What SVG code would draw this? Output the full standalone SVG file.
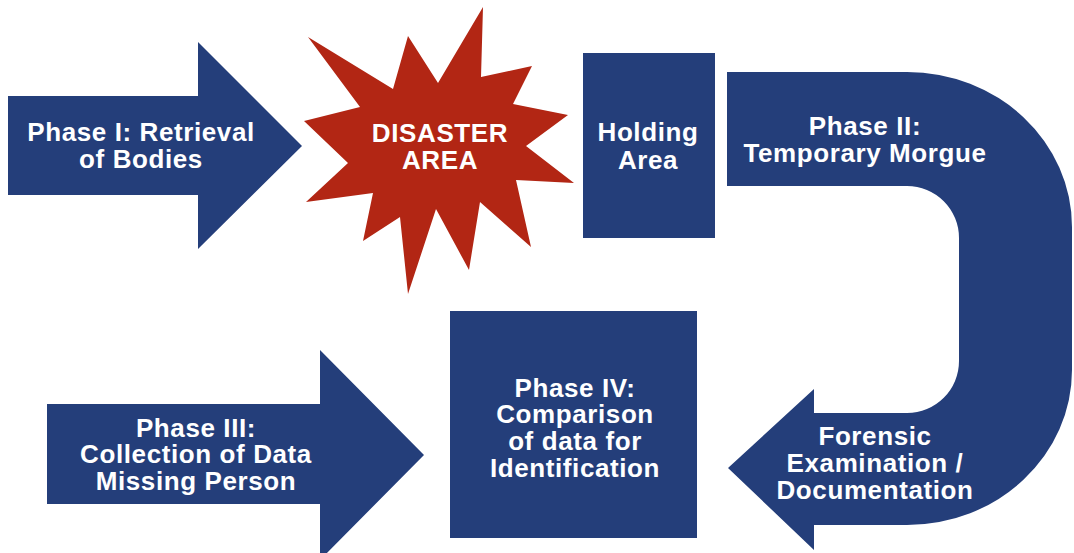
<svg xmlns="http://www.w3.org/2000/svg" width="1074" height="553" viewBox="0 0 1074 553">
<style>
.blue{fill:#243E7A}
.red{fill:#B22614}
.t{fill:#fff;font-family:"Liberation Sans",Arial,sans-serif;font-weight:bold;font-size:26px;letter-spacing:0.6px;text-anchor:middle}
</style>
<rect width="1074" height="553" fill="#fff"/>
<g id="phase1">
<path class="blue" d="M8,96 H198 V42 L302,146 L198,249 V195 H8 Z"/>
<text class="t" x="141" y="141">Phase I: Retrieval</text>
<text class="t" x="141" y="168">of Bodies</text>
</g>
<g id="disaster">
<polygon class="red" points="483,7 481,77 532,66 513,104 568,115 526,146 574,183 516,180 531,247 480,202 469,270 436,209 408,294 400,217 363,241 373,193 306,202 348,163 304,121 360,107 308,37 393,89 408,36 438,83"/>
<text class="t" x="440" y="142">DISASTER</text>
<text class="t" x="440" y="169">AREA</text>
</g>
<g id="holding">
<rect class="blue" x="583" y="53" width="132" height="185"/>
<text class="t" x="648" y="141">Holding</text>
<text class="t" x="648" y="169">Area</text>
</g>
<g id="phase2">
<path class="blue" d="M727,72 H907 A165,155 0 0 1 1072,227 V370 A165,155 0 0 1 907,525 H814 V550 L728,468 L814,389 V413 H907 A52,52 0 0 0 959,361 V238 A52,52 0 0 0 907,186 H727 Z"/>
<text class="t" x="865" y="135">Phase II:</text>
<text class="t" x="865" y="162">Temporary Morgue</text>
<text class="t" x="875" y="445">Forensic</text>
<text class="t" x="875" y="472">Examination /</text>
<text class="t" x="875" y="499">Documentation</text>
</g>
<g id="phase3">
<path class="blue" d="M47,404 H320 V350 L424,455 L320,560 V504 H47 Z"/>
<text class="t" x="196" y="437">Phase III:</text>
<text class="t" x="196" y="463">Collection of Data</text>
<text class="t" x="196" y="490">Missing Person</text>
</g>
<g id="phase4">
<rect class="blue" x="450" y="311" width="247" height="227"/>
<text class="t" x="575" y="397">Phase IV:</text>
<text class="t" x="575" y="423">Comparison</text>
<text class="t" x="575" y="450">of data for</text>
<text class="t" x="575" y="477">Identification</text>
</g>
<g id="connectors"></g>
</svg>
